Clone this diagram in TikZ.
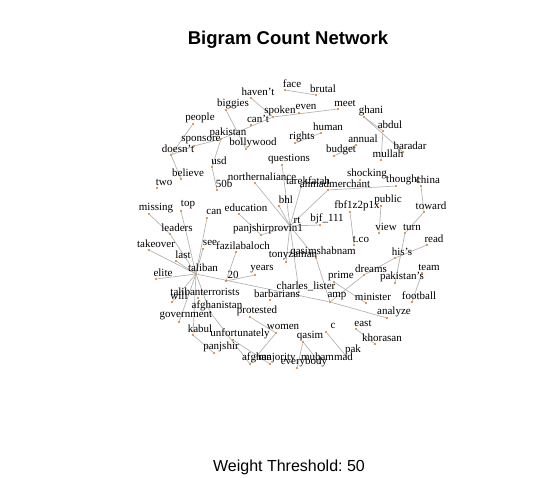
\documentclass[tikz,border=0pt]{standalone}
\usepackage{fontspec}
\setmainfont{Liberation Serif}
\newfontfamily\titlefont{Liberation Sans}
\usetikzlibrary{calc}
\pgfdeclarelayer{edges}
\pgfsetlayers{edges,main}
\definecolor{wordedge}{RGB}{180,180,180}
\definecolor{worddot}{RGB}{205,125,10}
\frenchspacing

\begin{document}
\begin{tikzpicture}[x=1pt, y=-1pt,
    wdot/.style={circle, fill=worddot, inner sep=0pt, minimum size=2.4pt},
    word/.style={font=\fontsize{11}{11}\selectfont, inner sep=0pt},
    link/.style={draw=wordedge, line width=0.7pt}]
\useasboundingbox (0,0) rectangle (538,478);

\node[font=\titlefont\bfseries\fontsize{18.5}{20}\selectfont] (title) at (288,40) {Bigram Count Network};
\node[font=\titlefont\fontsize{16}{18}\selectfont] (threshold) at (289,467) {Weight Threshold: 50};

% words: dot position, label sits above right of it
\foreach \n/\x/\y/\t in {
    face/285/90/face, brutal/316/95/brutal, havent/251/98/{haven’t},
    biggies/226/110/biggies, spoken/273/117/spoken, even/299/113/even,
    meet/338/109/meet, ghani/364/117/ghani, people/193/124/people,
    cant/251/125/{can’t}, abdul/383/131/abdul, human/321/133/human,
    pakistan/221/139/pakistan, rights/295/143/rights, annual/356/145/annual,
    sponsore/194/146/sponsore, baradar/403/152/baradar, doesnt/171/155/{doesn’t},
    bollywood/246/149/bollywood, budget/334/156/budget, mullah/381/160/mullah,
    usd/212/167/usd, questions/282/165/questions, believe/181/179/believe,
    two/157/188/two, fiftyb/217/190/50b, northernaliance/255/183/northernaliance,
    tarekfatah/301/187/tarekfatah, ahmadmerchant/328/190/ahmadmerchant,
    shocking/360/180/shocking, thought/396/186/thought, china/421/186/china,
    missing/149/214/missing, top/181/211/top, can/207/218/can,
    education/239/214/education, public/381/206/public, fbf/350/212/fbf1z2p1x,
    toward/424/212/toward, bhl/279/206/bhl, rt/290/226/rt, bjf/320/225/{bjf\_111},
    leaders/170/234/leaders, panjshirprovin/261/235/panjshirprovin1,
    view/379/233/view, turn/405/233/turn, read/427/245/read, tco/354/245/t.co,
    takeover/149/250/takeover, see/203/249/see, fazilabaloch/236/252/fazilabaloch,
    qasimshabnam/316/258/qasimshabnam, tony/286/262/tonyzaman, hiss/395/258/{his’s},
    dreams/364/275/dreams, team/422/273/team, last/176/261/last, elite/156/279/elite,
    taliban/196/274/taliban, twenty/226/281/20, years/255/275/years,
    prime/334/282/prime, pakistans/395/283/{pakistan’s}, charles/299/292/{charles\_lister},
    will/172/302/will, talibanterrorists/198/298/talibanterrorists,
    barbarians/270/300/barbarians, amp/330/302/amp, minister/366/303/minister,
    football/412/302/football, afghanistan/210/312/afghanistan,
    protested/250/317/protested, government/179/322/government,
    analyze/387/318/analyze, women/276/333/women, east/356/329/east, c/326/332/c,
    kabul/193/335/kabul, unfortunately/233/340/unfortunately, qasim/303/342/qasim,
    khorasan/375/344/khorasan, panjshir/214/353/panjshir, pak/346/356/pak,
    afghan/250/364/afghan, majority/270/364/majority, muhammad/320/363/muhammad,
    everybody/297/368/everybody}
{
  \node[wdot] (\n) at (\x,\y) {};
  \node[word] (\n-t) at ($(\n)+(7,-6)$) {\t};
}

\begin{pgfonlayer}{edges}
\foreach \a/\b in {face/brutal, havent/spoken, spoken/meet,
    biggies/bollywood, people/doesnt, doesnt/sponsore, sponsore/pakistan,
    pakistan/usd, usd/fiftyb, pakistan/spoken, doesnt/believe,
    mullah/abdul, abdul/ghani, ghani/baradar, human/rights, annual/budget,
    questions/rt, rt/northernaliance, rt/tarekfatah, rt/ahmadmerchant,
    rt/bhl, rt/bjf, rt/panjshirprovin, rt/qasimshabnam, rt/tony, rt/charles,
    education/panjshirprovin, ahmadmerchant/thought, china/toward, toward/turn,
    turn/pakistans, read/hiss, hiss/dreams, dreams/amp, prime/minister,
    team/football, public/view, fbf/tco, amp/analyze, qasimshabnam/amp,
    missing/leaders, leaders/taliban, top/taliban, can/taliban,
    takeover/taliban, last/taliban, see/taliban, elite/taliban,
    taliban/will, taliban/government, taliban/kabul, taliban/afghanistan,
    taliban/amp, twenty/years, fazilabaloch/twenty, kabul/panjshir,
    afghanistan/afghan, unfortunately/majority, women/afghan, women/protested,
    c/pak, east/khorasan, qasim/muhammad, qasim/everybody}
  \draw[link] (\a) -- (\b);
\end{pgfonlayer}
\end{tikzpicture}
\end{document}
